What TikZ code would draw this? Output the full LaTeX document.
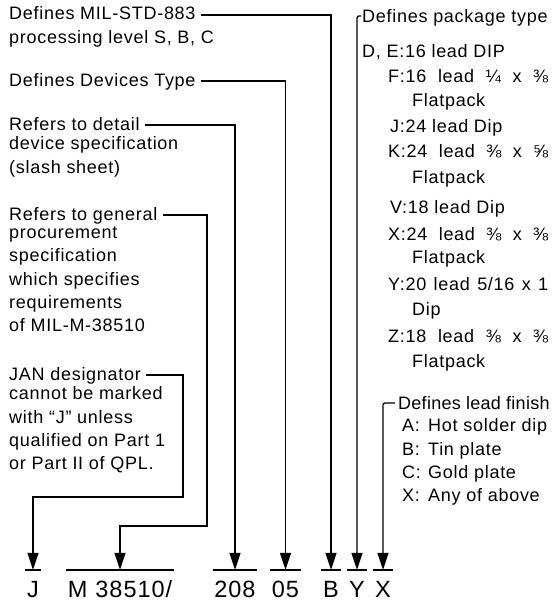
\documentclass[tikz,border=0pt]{standalone}
\usepackage{fontspec}
\setmainfont{Liberation Sans}[LetterSpace=4.0]
\usetikzlibrary{arrows.meta}
\newcommand\notefont{\fontsize{18}{23.3}\selectfont}
\newcommand\codefont{\fontsize{23.5}{23.5}\selectfont}

\begin{document}
\begin{tikzpicture}[x=1pt,y=1pt,>={Triangle[length=17pt,width=11pt]},
  note/.style={anchor=base west,inner sep=0pt,font=\notefont},
  lead/.style={note,text height=10pt,text depth=0pt},
  body/.style={anchor=north west,inner sep=0pt,align=left,font=\notefont,execute at begin node=\strut},
  code/.style={anchor=base,inner ysep=0pt,inner xsep=1.5pt,text height=27pt,text depth=0pt,font=\codefont},
  tie/.style={line width=1.3pt,->},
  bar/.style={line width=2.4pt}]
  \useasboundingbox (0,0) rectangle (554,-602);

  % left column
  \node[lead] (mil) at (9,-20) {Defines MIL-STD-883};
  \node[body] (milb) at (9,-26.7) {processing level S, B, C};
  \node[lead] (devtype) at (9,-86) {Defines Devices Type};
  \node[lead] (detail) at (9,-130) {Refers to detail};
  \node[body] (detailb) at (9,-136.7) {device specification\\(slash sheet)};
  \node[lead] (general) at (9,-220) {Refers to general};
  \node[body] (generalb) at (9,-226.7) {procurement\\specification\\which specifies\\requirements\\of MIL-M-38510};
  \node[lead] (jan) at (9,-380) {JAN designator};
  \node[body] (janb) at (9,-386.7) {cannot be marked\\with “J” unless\\qualified on Part 1\\or Part II of QPL.};

  % right column
  \node[lead] (pkg) at (362,-23) {Defines package type};
  \foreach \x/\y/\t in {362/57/{D, E:16 lead DIP},412/106/Flatpack,390/132/{J:24 lead Dip},
      412/183/Flatpack,390/213/{V:18 lead Dip},412/263/Flatpack,412/315/Dip,412/367/Flatpack}
    \node[note] (pk\y) at (\x,-\y) {\t};
  \foreach \y/\t in {82/{F:16 lead ¼ x ⅜},157/{K:24 lead ⅜ x ⅝},240/{X:24 lead ⅜ x ⅜},
      290/{Y:20 lead 5/16 x 1},342/{Z:18 lead ⅜ x ⅜}}
    \node[note] (pk\y) at (388,-\y) {\makebox[160pt][s]{\t}};
  \node[lead,font=\notefont\addfontfeature{LetterSpace=1.5}] (finish) at (398,-409) {Defines lead finish};
  \node[body] (finishb) at (402,-418.7) {\makebox[26pt][l]{A:}Hot solder dip\\
    \makebox[26pt][l]{B:}Tin plate\\
    \makebox[26pt][l]{C:}Gold plate\\
    \makebox[26pt][l]{X:}Any of above};

  % the part number
  \node[code] (cJ) at (33,-597) {J};
  \node[code] (cM) at (120,-597) {M\hspace{8pt}38510/};
  \node[code] (c208) at (235,-597) {208};
  \node[code] (c05) at (285.5,-597) {05};
  \node[code] (cB) at (331,-597) {B};
  \node[code] (cY) at (357,-597) {Y};
  \node[code] (cX) at (383,-597) {X};
  \foreach \c in {cJ,cM,c208,c05,cB,cY,cX}
    \draw[bar] (\c.north west) -- (\c.north east);

  % leaders
  \coordinate (kM) at (207,-526);
  \coordinate (kJ) at (183,-497);
  \draw[tie] ([xshift=5pt]mil.east) -| (cB.north);
  \draw[tie] ([xshift=5pt]devtype.east) -| (c05.north);
  \draw[tie] ([xshift=5pt]detail.east) -| (c208.north);
  \draw[tie] ([xshift=5pt]general.east) -| (kM) -| (cM.north);
  \draw[tie] ([xshift=5pt]jan.east) -| (kJ) -| (cJ.north);
  \draw[tie,rounded corners=2pt] ([shift={(-1pt,2pt)}]pkg.west) -| (cY.north);
  \draw[tie,rounded corners=2pt] ([shift={(-3pt,1pt)}]finish.west) -| (cX.north);
\end{tikzpicture}
\end{document}
